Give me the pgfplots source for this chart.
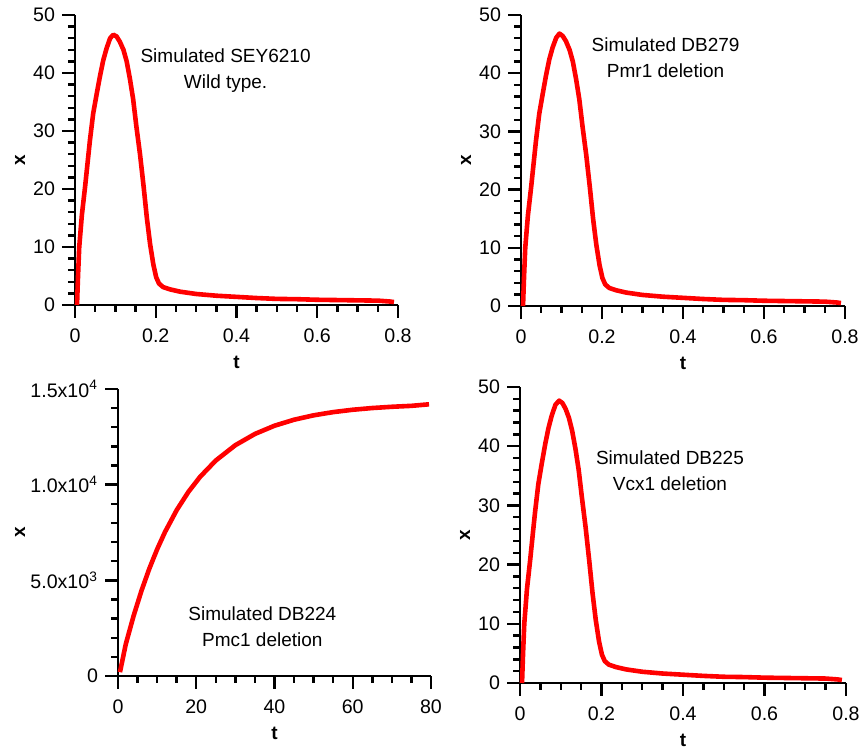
\documentclass[border=0pt]{standalone}
\usepackage{fontspec}
\setmainfont{Liberation Sans}
\usepackage{pgfplots}
\usepackage{pgfplotstable}
\pgfplotsset{compat=1.18}

% simulated traces
\pgfplotstableread{
t x
0.005 0
0.0075 5
0.0105 10
0.017 15.5
0.025 20.4
0.031 24.4
0.037 28.4
0.045 33
0.054 36.5
0.062 39.5
0.070 42.2
0.078 44.2
0.087 46
0.095 46.6
0.103 46.3
0.111 45.4
0.120 44
0.128 42
0.136 39
0.144 35.5
0.152 30.8
0.161 26
0.170 20.4
0.178 15
0.186 10.5
0.194 7
0.201 4.8
0.208 3.7
0.218 3.1
0.235 2.7
0.26 2.3
0.30 1.9
0.35 1.6
0.40 1.4
0.45 1.2
0.50 1.05
0.55 1.0
0.60 0.9
0.65 0.85
0.70 0.8
0.75 0.75
0.78 0.6
0.79 0.5
}\wildtype

\pgfplotstableread{
t x
0.005 0
0.0075 5
0.0105 10
0.017 15.5
0.025 20.4
0.031 24.4
0.037 28.4
0.045 33
0.054 36.6
0.062 39.7
0.070 42.4
0.078 44.4
0.087 46.1
0.095 46.8
0.103 46.4
0.111 45.5
0.120 44
0.128 42
0.136 39
0.144 35.5
0.152 30.8
0.161 26
0.170 20.4
0.178 15
0.186 10.5
0.194 7
0.201 4.8
0.208 3.7
0.218 3.1
0.235 2.7
0.26 2.3
0.30 1.9
0.35 1.6
0.40 1.4
0.45 1.2
0.50 1.05
0.55 1.0
0.60 0.9
0.65 0.85
0.70 0.8
0.75 0.75
0.78 0.6
0.79 0.5
}\pmrone

\pgfplotstableread{
t x
0.5 200
2 1675
4 3152
6 4456
8 5607
10 6622
12 7519
15 8670
18 9623
21 10414
25 11263
30 12064
35 12651
40 13080
45 13394
50 13624
55 13792
60 13915
65 14005
70 14070
75 14119
79.5 14200
}\pmcone

\pgfplotstableread{
t x
0.005 0
0.0075 5
0.0105 10
0.017 15.8
0.025 20.8
0.031 24.9
0.037 28.9
0.045 33.6
0.054 37.3
0.062 40.4
0.070 43.1
0.078 45.2
0.087 47
0.096 47.7
0.104 47.3
0.112 46.3
0.120 44.8
0.128 42.6
0.136 39.6
0.144 36
0.152 31.3
0.161 26.3
0.170 20.6
0.178 15.2
0.186 10.6
0.194 7
0.201 4.8
0.208 3.7
0.218 3.1
0.235 2.7
0.26 2.3
0.30 1.9
0.35 1.6
0.40 1.4
0.45 1.2
0.50 1.05
0.55 1.0
0.60 0.9
0.65 0.85
0.70 0.8
0.75 0.75
0.78 0.6
0.79 0.5
}\vcxone

\tikzset{
  trace/.style={red, line width=2.3pt, line join=round},
  note/.style={align=center, font=\fontsize{9.5}{13}\selectfont},
}

\pgfplotsset{
  simfig/.style={
    scale only axis,
    axis lines=left,
    axis line style={-, line width=1.3pt},
    every tick/.style={black, line width=1.2pt},
    tick align=outside,
    major tick length=6.5pt,
    minor tick length=3.5pt,
    tick label style={font=\fontsize{9.8}{11}\selectfont},
    /pgf/number format/assume math mode=true,
    xticklabel style={yshift=-2pt},
    label style={font=\bfseries\fontsize{9.5}{11}\selectfont},
    xlabel={t}, ylabel={x},
    xlabel style={at={([yshift=-28.5pt]axis description cs:0.5,0)}, anchor=center},
    ylabel style={at={([xshift=-27.5pt]axis description cs:0,0.5)}, anchor=center},
    clip=false,
  },
  peak/.style={
    simfig,
    xmin=0, xmax=0.8, ymin=0, ymax=50,
    xtick={0,0.2,0.4,0.6,0.8},
    xticklabels={0,0.2,0.4,0.6,0.8},
    ytick={0,10,...,50},
    minor x tick num=3, minor y tick num=4,
  },
}

\begin{document}
\begin{tikzpicture}
\useasboundingbox (0,0) rectangle (431.5pt,374.5pt);

% top left
\begin{axis}[peak, at={(37.5pt,222pt)}, anchor=south west,
  width=161.5pt, height=145pt]
\addplot[trace, no markers] table[x=t, y=x] {\wildtype};
\node[note] at (axis cs:0.373,40.5) {Simulated SEY6210\\Wild type.};
\end{axis}

% top right
\begin{axis}[peak, at={(260.5pt,221.5pt)}, anchor=south west,
  width=162pt, height=145.5pt]
\addplot[trace, no markers] table[x=t, y=x] {\pmrone};
\node[note] at (axis cs:0.357,42.7) {Simulated DB279\\Pmr1 deletion};
\end{axis}

% bottom left
\begin{axis}[simfig, at={(59pt,36.5pt)}, anchor=south west,
  width=156.5pt, height=143.5pt,
  xmin=0, xmax=80, ymin=0, ymax=15000,
  xtick={0,20,...,80}, minor x tick num=3,
  ytick={0,5000,10000,15000}, minor y tick num=4,
  scaled y ticks=false,
  yticklabels={0,{5.0x10\textsuperscript{3}},{1.0x10\textsuperscript{4}},{1.5x10\textsuperscript{4}}},
  ylabel style={at={([xshift=-49pt]axis description cs:0,0.5)}, anchor=center}]
\addplot[trace, no markers] table[x=t, y=x] {\pmcone};
\node[note] at (axis cs:36.9,2561) {Simulated DB224\\Pmc1 deletion};
\end{axis}

% bottom right
\begin{axis}[peak, at={(260pt,33pt)}, anchor=south west,
  width=163pt, height=148pt]
\addplot[trace, no markers] table[x=t, y=x] {\vcxone};
\node[note] at (axis cs:0.368,35.8) {Simulated DB225\\Vcx1 deletion};
\end{axis}
\end{tikzpicture}
\end{document}
